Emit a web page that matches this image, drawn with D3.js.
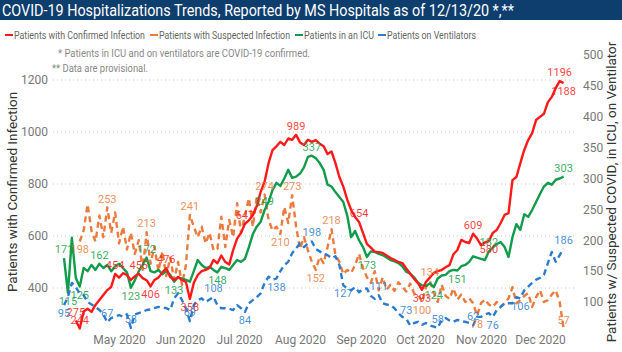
<!DOCTYPE html>
<html>
<head>
<meta charset="utf-8">
<script src="https://cdn.jsdelivr.net/npm/d3@7"></script>
<style>
  body { margin: 0; background: #fff; }
  svg text { font-family: "Liberation Sans Narrow", "Roboto", sans-serif; }
</style>
</head>
<body>
<div id="chart"></div>
<script>
var w = 622;
var h = 352;

// sampled every 2 days from Apr 3 2020 to Dec 13 2020
var startDate = new Date(2020, 3, 3);
var stepDays = 2;

var confirmed = [null, null, null, 275, 244, 310, 320, 308, 335, 354,
  373, 392, 404, 454, 440, 457, 450, 431, 445, 455,
  438, 430, 406, 431, 440, 460, 476, 442, 431, 442,
  431, 423, 358, 420, 450, 465, 470, 477, 508, 495,
  525, 500, 490, 546, 590, 612, 647, 660, 680, 715,
  770, 810, 880, 930, 945, 962, 950, 975, 970, 989,
  960, 950, 970, 962, 969, 955, 945, 915, 925, 880,
  827, 790, 740, 700, 673, 654, 612, 570, 555, 540,
  538, 535, 525, 515, 508, 500, 496, 475, 455, 435,
  419, 393, 423, 440, 458, 465, 469, 480, 488, 530,
  546, 585, 577, 573, 609, 590, 565, 575, 580, 612,
  623, 650, 681, 688, 815, 827, 880, 931, 969, 996,
  1046, 1058, 1070, 1115, 1135, 1169, 1196, 1188];

var suspected = [null, null, null, null, 198, 216, 258, 215, 198, 240,
  205, 253, 212, 245, 195, 222, 185, 212, 178, 200,
  152, 213, 162, 190, 150, 182, 142, 172, 136, 165,
  128, 160, 241, 222, 205, 222, 195, 212, 184, 186,
  238, 189, 233, 205, 260, 212, 240, 268, 222, 270,
  245, 274, 233, 216, 222, 210, 254, 228, 273, 222,
  186, 205, 184, 165, 152, 173, 163, 189, 218, 176,
  165, 145, 152, 147, 160, 178, 155, 140, 131, 150,
  119, 140, 120, 128, 118, 132, 125, 117, 130, 114,
  112, 100, 124, 134, 115, 100, 128, 110, 105, 122,
  104, 112, 100, 106, 98, 78, 98, 104, 96, 92,
  100, 92, 98, 106, 124, 98, 103, 110, 114, 92,
  108, 119, 100, 103, 112, 119, 100, 57];

var icu = [171, 115, 204, 139, 125, 155, 150, 160, 152, 162,
  155, 160, 150, 158, 162, 155, 148, 123, 135, 150,
  160, 172, 150, 148, 152, 145, 150, 144, 133, 140,
  138, 136, 133, 150, 168, 160, 155, 157, 152, 148,
  157, 155, 152, 160, 168, 165, 170, 189, 210, 222,
  230, 249, 262, 281, 293, 288, 300, 314, 301, 303,
  308, 318, 335, 337, 333, 325, 314, 290, 287, 278,
  270, 262, 240, 205, 215, 200, 189, 173, 182, 181,
  178, 176, 172, 168, 166, 163, 158, 149, 146, 140,
  131, 127, 126, 130, 124, 138, 143, 144, 150, 152,
  151, 158, 160, 165, 174, 172, 170, 168, 182, 188,
  194, 197, 189, 173, 205, 226, 217, 242, 238, 249,
  262, 275, 287, 293, 290, 298, 300, 303];

var ventilator = [95, 108, 131, 124, 114, 111, 100, 96, 92, 87,
  80, 67, 74, 76, 79, 76, 80, 58, 80, 82,
  84, 87, 88, 90, 92, 91, 90, 87, 106, 114,
  103, 90, 69, 95, 103, 106, 100, 104, 108, 95,
  90, 90, 89, 87, 95, 90, 84, 98, 103, 108,
  114, 131, 141, 136, 138, 150, 160, 165, 179, 187,
  195, 189, 195, 198, 186, 182, 178, 176, 171, 174,
  160, 127, 122, 119, 124, 116, 120, 122, 110, 105,
  111, 98, 96, 95, 90, 82, 76, 73, 62, 66,
  68, 63, 66, 62, 60, 58, 71, 74, 70, 68,
  71, 69, 68, 66, 62, 76, 76, 80, 82, 76,
  87, 92, 98, 98, 98, 108, 106, 119, 125, 131,
  136, 139, 144, 163, 181, 165, 176, 186];

// indices of points that carry a data label
var confirmedLabels = [3, 4, 13, 19, 22, 26, 32, 46, 59, 75, 91, 104, 108, 126, 127];
var suspectedLabels = [4, 11, 21, 32, 51, 55, 58, 64, 68, 91, 93, 105, 127];
var icuLabels = [0, 1, 4, 9, 17, 21, 28, 39, 51, 63, 77, 94, 100, 108, 127];
var ventilatorLabels = [0, 11, 17, 32, 38, 46, 54, 63, 71, 80, 87, 95, 104, 109, 116, 127];

var leftTicks = [400, 600, 800, 1000, 1200];
var rightTicks = [100, 150, 200, 250, 300, 350, 400, 450, 500];
var monthTicks = [new Date(2020, 4, 1), new Date(2020, 5, 1), new Date(2020, 6, 1), new Date(2020, 7, 1),
  new Date(2020, 8, 1), new Date(2020, 9, 1), new Date(2020, 10, 1), new Date(2020, 11, 1)];

var legendNames = ["Patients with Confirmed Infection", "Patients with Suspected Infection",
  "Patients in an ICU", "Patients on Ventilators"];

var dates = confirmed.map(function (d, i) {
  return d3.timeDay.offset(startDate, i * stepDays);
});

var colors = { red: "#ff1a1a", orange: "#ec7a3c", green: "#119c4b", blue: "#2b7bd0" };

var xScale = d3.scaleTime()
  .domain([dates[0], dates[dates.length - 1]])
  .range([64, 563.6]);
var yLeft = d3.scaleLinear().domain([240, 1300]).range([329.6, 54]);
var yRight = d3.scaleLinear().domain([55, 500]).range([329.8, 55]);

var svg = d3.select("#chart").append("svg")
  .attr("width", w)
  .attr("height", h);

// title bar
svg.append("rect").attr("x", 0).attr("y", 0).attr("width", w).attr("height", 20)
  .attr("fill", "#0e3e6e");
svg.append("text")
  .attr("x", 2).attr("y", 15.5)
  .attr("fill", "#fff")
  .attr("font-size", "16.5px")
  .attr("textLength", 512)
  .attr("lengthAdjust", "spacingAndGlyphs")
  .text("COVID-19 Hospitalizations Trends, Reported by MS Hospitals as of 12/13/20 *,**");

// legend
var legendX = [5, 150, 295, 378];
var legendW = [131, 131, 70, 89];
var legendCol = [colors.red, colors.orange, colors.green, colors.blue];
var lg = svg.append("g");
legendNames.forEach(function (name, i) {
  lg.append("line")
    .attr("x1", legendX[i]).attr("x2", legendX[i] + 8)
    .attr("y1", 35).attr("y2", 35)
    .attr("stroke", legendCol[i]).attr("stroke-width", 2);
  lg.append("text")
    .attr("x", legendX[i] + 9).attr("y", 38.5)
    .attr("font-size", "11px")
    .attr("fill", "#666")
    .attr("textLength", legendW[i])
    .attr("lengthAdjust", "spacingAndGlyphs")
    .text(name);
});

// notes
svg.append("text").attr("x", 58).attr("y", 57).attr("font-size", "10px").attr("fill", "#888")
  .attr("textLength", 252).attr("lengthAdjust", "spacingAndGlyphs")
  .text("* Patients in ICU and on ventilators are COVID-19 confirmed.");
svg.append("text").attr("x", 52).attr("y", 72).attr("font-size", "10px").attr("fill", "#888")
  .attr("textLength", 96).attr("lengthAdjust", "spacingAndGlyphs")
  .text("** Data are provisional.");

// gridlines
svg.append("g").selectAll("line")
  .data(leftTicks)
  .enter()
  .append("line")
  .attr("x1", 53).attr("x2", 576)
  .attr("y1", function (d) { return yLeft(d); })
  .attr("y2", function (d) { return yLeft(d); })
  .attr("stroke", "#c8c8c8")
  .attr("stroke-width", 1)
  .attr("stroke-dasharray", "1,3");

// axes
var leftAxis = svg.append("g")
  .attr("transform", "translate(48,0)")
  .call(d3.axisLeft(yLeft).tickValues(leftTicks).tickSize(0).tickPadding(0).tickFormat(d3.format("d")));
var rightAxis = svg.append("g")
  .attr("transform", "translate(583,0)")
  .call(d3.axisRight(yRight).tickValues(rightTicks).tickSize(0).tickPadding(0).tickFormat(d3.format("d")));
var bottomAxis = svg.append("g")
  .attr("transform", "translate(0,333)")
  .call(d3.axisBottom(xScale).tickValues(monthTicks).tickSize(0).tickPadding(0)
    .tickFormat(d3.timeFormat("%b %Y")));
[leftAxis, rightAxis, bottomAxis].forEach(function (g) {
  g.select(".domain").remove();
  g.selectAll("text").attr("fill", "#777").attr("font-size", "12px")
    .attr("font-family", "\"Liberation Sans Narrow\", Roboto, sans-serif");
});
bottomAxis.selectAll("text").attr("dy", "0.9em");

// axis titles
svg.append("text")
  .attr("transform", "translate(17,192) rotate(-90)")
  .attr("text-anchor", "middle")
  .attr("font-size", "13.5px")
  .attr("fill", "#333")
  .text("Patients with Confirmed Infection");
svg.append("text")
  .attr("transform", "translate(616,192) rotate(-90)")
  .attr("text-anchor", "middle")
  .attr("font-size", "13.5px")
  .attr("fill", "#333")
  .text("Patients w/ Suspected COVID, in ICU, on Ventilator");

// lines
var series = [
  { values: suspected, y: yRight, color: colors.orange, dash: "6,4", labels: suspectedLabels },
  { values: icu, y: yRight, color: colors.green, dash: null, labels: icuLabels },
  { values: confirmed, y: yLeft, color: colors.red, dash: null, labels: confirmedLabels },
  { values: ventilator, y: yRight, color: colors.blue, dash: "6,4", labels: ventilatorLabels }
];

series.forEach(function (s) {
  var line = d3.line()
    .defined(function (d) { return d != null; })
    .x(function (d, i) { return xScale(dates[i]); })
    .y(function (d) { return s.y(d); });
  svg.append("path")
    .datum(s.values)
    .attr("fill", "none")
    .attr("stroke", s.color)
    .attr("stroke-width", 2.4)
    .attr("stroke-linejoin", "round")
    .attr("stroke-dasharray", s.dash)
    .attr("d", line);
});

// data labels: above local highs, below local lows, never under the plot bottom
series.forEach(function (s) {
  svg.append("g").selectAll("text")
    .data(s.labels)
    .enter()
    .append("text")
    .attr("x", function (i) { return xScale(dates[i]); })
    .attr("y", function (i) {
      var v = s.values[i];
      var nb = [s.values[i - 1], s.values[i + 1]].filter(function (d) { return d != null; });
      var above = nb.length === 0 || v >= d3.mean(nb);
      var py = s.y(v);
      if (!above && py + 12 > 329) above = true;
      return py + (above ? -5 : 12);
    })
    .attr("text-anchor", "middle")
    .attr("font-size", "11px")
    .attr("fill", s.color)
    .attr("fill-opacity", 0.85)
    .text(function (i) { return s.values[i]; });
});
</script>
</body>
</html>
